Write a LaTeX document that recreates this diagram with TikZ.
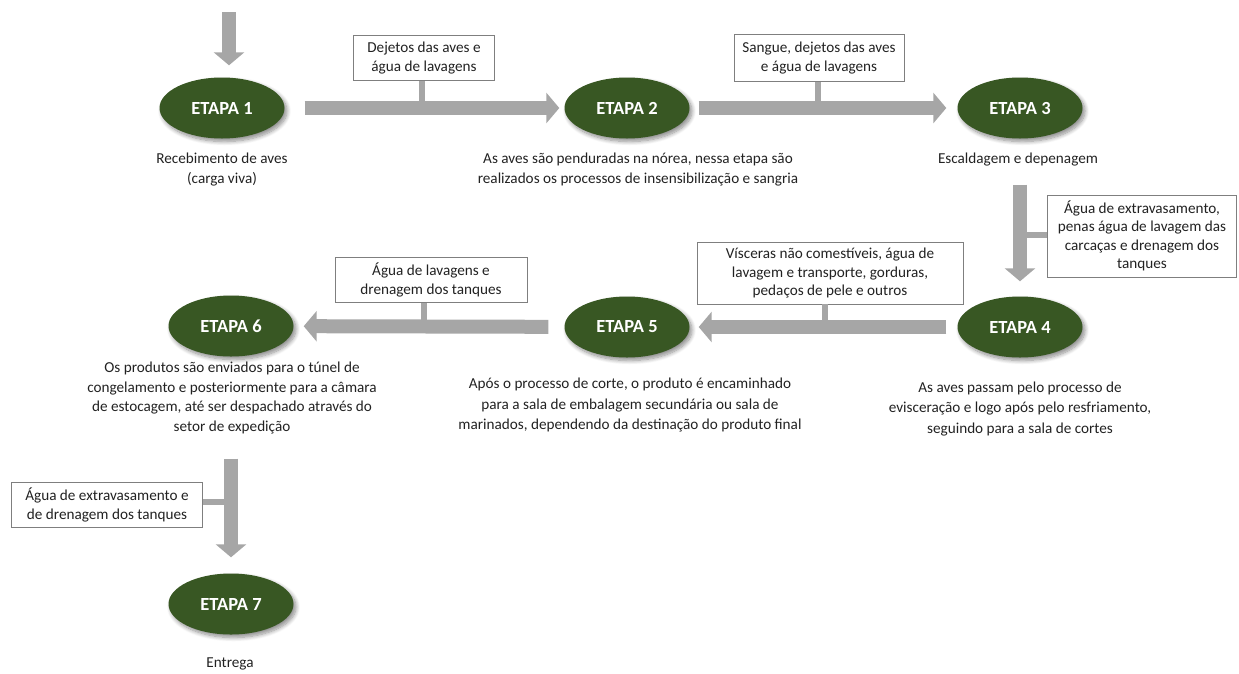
\documentclass[tikz,border=0pt]{standalone}
\usepackage{fontspec}
\setmainfont{Carlito}
\usetikzlibrary{arrows.meta,shapes.geometric,shadows.blur}

\definecolor{stepgreen}{HTML}{385723}
\definecolor{flowgray}{HTML}{A6A6A6}
\definecolor{boxline}{HTML}{7F7F7F}
\definecolor{txt}{HTML}{222222}

\tikzset{
  etapa/.style={ellipse, fill=stepgreen, minimum width=125pt, minimum height=61pt,
    inner sep=0pt, text=white, font=\fontsize{18.5}{20}\selectfont\bfseries,
    blur shadow={shadow xshift=2.5pt, shadow yshift=-3pt, shadow blur radius=4pt,
      shadow blur steps=8, shadow opacity=45}},
  desc/.style={align=center, anchor=north, inner sep=0pt, text=txt,
    font=\fontsize{15.2}{20.5}\selectfont},
  residuo/.style={draw=boxline, line width=0.8pt, fill=white, align=center,
    inner sep=0pt, text=txt, font=\fontsize{15.2}{18.5}\selectfont},
  flow/.style={draw=flowgray, line width=14pt, -{Triangle[length=13pt,width=30pt]}},
  stem/.style={draw=flowgray, line width=6.5pt},
}

\begin{document}
\begin{tikzpicture}[x=1pt,y=-1pt]
\useasboundingbox (0,0) rectangle (1239,673);

% process steps
\node[etapa] (E1) at (222,108) {ETAPA 1};
\node[etapa] (E2) at (627,108) {ETAPA 2};
\node[etapa] (E3) at (1020,108) {ETAPA 3};
\node[etapa] (E4) at (1020,327) {ETAPA 4};
\node[etapa] (E5) at (627,327) {ETAPA 5};
\node[etapa] (E6) at (231,326) {ETAPA 6};
\node[etapa] (E7) at (231,604) {ETAPA 7};

% step descriptions
\node[desc] (D1) at (222,152.5) {Recebimento de aves\\(carga viva)};
\node[desc] (D2) at (638,152.5) {As aves são penduradas na nórea, nessa etapa são\\realizados os processos de insensibilização e sangria};
\node[desc] (D3) at (1018,152.5) {Escaldagem e depenagem};
\node[desc] (D4) at (1020,381.5) {As aves passam pelo processo de\\evisceração e logo após pelo resfriamento,\\seguindo para a sala de cortes};
\node[desc] (D5) at (630,378) {Após o processo de corte, o produto é encaminhado\\para a sala de embalagem secundária ou sala de\\marinados, dependendo da destinação do produto final};
\node[desc, font=\fontsize{15.2}{19.5}\selectfont] (D6) at (232,362) {Os produtos são enviados para o túnel de\\congelamento e posteriormente para a câmara\\de estocagem, até ser despachado através do\\setor de expedição};
\node[desc] (D7) at (230,658) {Entrega};

% residue boxes
\node[residuo, minimum width=141pt, minimum height=45pt] (B12) at (424,58) {Dejetos das aves e\\água de lavagens};
\node[residuo, minimum width=170pt, minimum height=47pt] (B23) at (819,58) {Sangue, dejetos das aves\\e água de lavagens};
\node[residuo, minimum width=189pt, minimum height=82pt] (B34) at (1142,236) {Água de extravasamento,\\penas água de lavagem das\\carcaças e drenagem dos\\tanques};
\node[residuo, minimum width=266pt, minimum height=62pt] (B45) at (830,273) {Vísceras não comestíveis, água de\\lavagem e transporte, gorduras,\\pedaços de pele e outros};
\node[residuo, minimum width=192pt, minimum height=45pt] (B56) at (431,280) {Água de lavagens e\\drenagem dos tanques};
\node[residuo, minimum width=191pt, minimum height=45pt] (B67) at (107,505) {Água de extravasamento e\\de drenagem dos tanques};

% stems joining each box to its flow arrow
\draw[stem] ([xshift=-2pt]B12.south) -- ([xshift=-2pt]B12.south |- E1);
\draw[stem] ([xshift=-1pt]B23.south) -- ([xshift=-1pt]B23.south |- E2);
\draw[stem] ([yshift=1pt]B34.west) -- ([yshift=1pt]B34.west -| E3);
\draw[stem] ([xshift=-5pt]B45.south) -- ([xshift=-5pt]B45.south |- E4);
\draw[stem] ([xshift=-7pt]B56.south) -- ([xshift=-7pt]B56.south |- E5);
\draw[stem] ([yshift=3pt]B67.east) -- ([yshift=3pt]B67.east -| E7);

% flow arrows
\coordinate (in) at (229,12);
\draw[flow, shorten >=12pt] (in) -- (in |- E1.north);
\draw[flow, shorten <=20pt, shorten >=5pt] (E1) -- (E2);
\draw[flow, shorten <=9pt, shorten >=11pt] (E2) -- (E3);
\draw[flow, shorten <=46pt, shorten >=15pt] (E3) -- (E4);
\draw[flow, shorten <=11pt, shorten >=9pt] (E4) -- (E5);
\draw[flow, shorten <=16pt, shorten >=10pt] (E5) -- (E6);
\draw[flow, shorten <=102pt, shorten >=16pt] (E6) -- (E7);
\end{tikzpicture}
\end{document}
